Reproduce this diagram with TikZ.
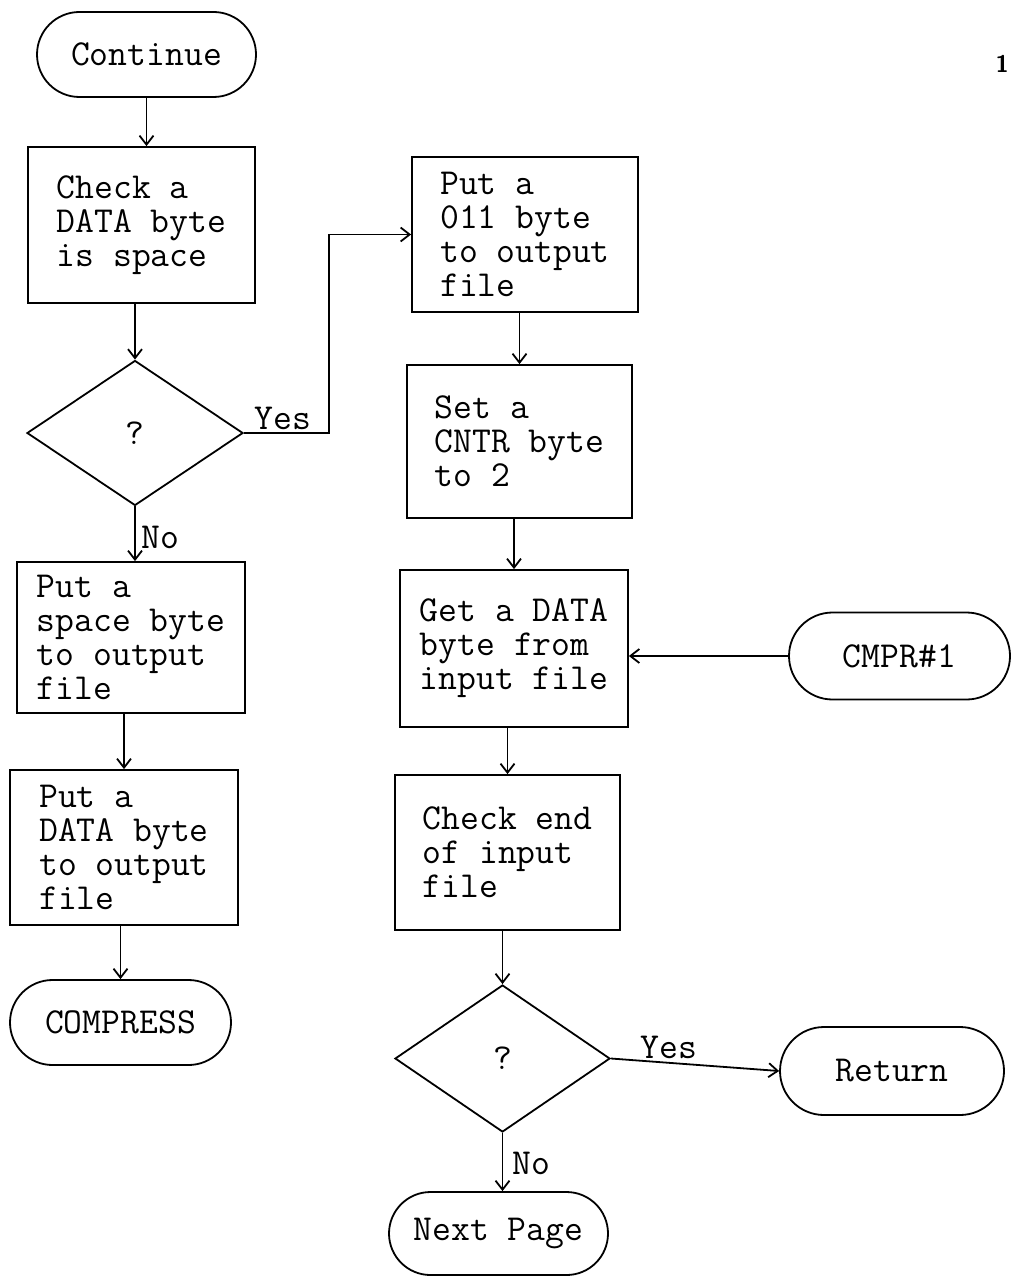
\documentclass[tikz,border=0pt]{standalone}
\usetikzlibrary{shapes.geometric,shapes.misc,arrows.meta}
\begin{document}
\begin{tikzpicture}[x=1pt,y=-1pt]
\tikzset{
 every node/.style={font=\fontsize{36.6}{34}\selectfont\ttfamily},
 proc/.style={draw, rectangle, line width=1.8pt, inner sep=2pt, align=left},
 term/.style={draw, rounded rectangle, line width=1.8pt, inner sep=2pt},
 decision/.style={draw, diamond, line width=1.8pt, inner sep=0pt},
 flow/.style={line width=1.8pt, -{Straight Barb[length=9pt,width=14pt]}},
 lbl/.style={inner sep=0pt}
}
\useasboundingbox (0,0) rectangle (1011,1276);
\fill[white] (0,0) rectangle (1011,1276);

% left column
\node[term, minimum width=223pt, minimum height=85pt] (cont) at (146.5,54.5) {Continue};
\node[proc, minimum width=227pt, minimum height=156pt] (b1) at (141.5,225) {Check a\\DATA byte\\is space};
\node[decision, minimum width=216pt, minimum height=145pt] (d1) at (135,433) {?};
\node[proc, minimum width=228pt, minimum height=151pt] (b6) at (131,637.5) {Put a\\space byte\\to output\\file};
\node[proc, minimum width=228pt, minimum height=155pt] (b7) at (124,847.5) {Put a\\DATA byte\\to output\\file};
\node[term, minimum width=225pt, minimum height=85pt] (comp) at (120.5,1022.5) {COMPRESS};

% right column
\node[proc, minimum width=226pt, minimum height=155pt] (b2) at (525,234.5) {Put a\\011 byte\\to output\\file};
\node[proc, minimum width=225pt, minimum height=153pt] (b3) at (519.5,441.5) {Set a\\CNTR byte\\to 2};
\node[proc, minimum width=228pt, minimum height=157pt] (b4) at (514,648.5) {Get a DATA\\byte from\\input file};
\node[term, minimum width=225pt, minimum height=87pt] (cmpr) at (899.5,656) {CMPR\#1};
\node[proc, minimum width=225pt, minimum height=155pt] (b5) at (507.5,852.5) {Check end\\of input\\file};
\node[decision, minimum width=215pt, minimum height=147pt] (d2) at (502.5,1058.5) {?};
\node[term, minimum width=228pt, minimum height=88pt] (ret) at (892,1071) {Return};
\node[term, minimum width=223pt, minimum height=83pt] (np) at (498.5,1233.5) {Next Page};

% page number
\node[lbl, anchor=east, font=\fontsize{24}{24}\selectfont\sffamily\bfseries] (pg) at (1009,64) {1};

% connectors
\coordinate (yc) at (329,0);
\draw[flow] (cont.south) -- (cont.south |- b1.north);
\draw[flow] (d1.north |- b1.south) -- (d1.north);
\draw[flow] (d1.east) -- (d1.east -| yc) -- (yc |- b2.west) -- (b2.west);
\node[lbl] (yes1) at (283,418) {Yes};
\draw[flow] (d1.south) -- (d1.south |- b6.north);
\node[lbl] (no1) at (160,537) {No};
\draw[flow] (b6.south -| b7.north) -- (b7.north);
\draw[flow] (comp.north |- b7.south) -- (comp.north);

\draw[flow] (b3.north |- b2.south) -- (b3.north);
\draw[flow] (b4.north |- b3.south) -- (b4.north);
\draw[flow] (cmpr.west) -- (cmpr.west -| b4.east);
\draw[flow] (b5.north |- b4.south) -- (b5.north);
\draw[flow] (d2.north |- b5.south) -- (d2.north);
\draw[flow] (d2.east) -- (ret.west);
\node[lbl] (yes2) at (669,1047) {Yes};
\draw[flow] (d2.south) -- (d2.south |- np.north);
\node[lbl] (no2) at (531,1163) {No};
\end{tikzpicture}
\end{document}
